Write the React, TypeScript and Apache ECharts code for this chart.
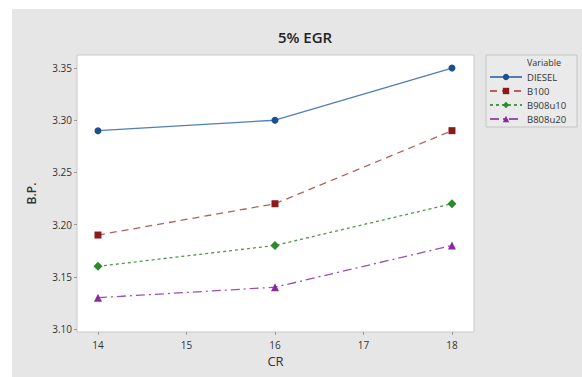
import React, { useEffect, useRef } from "react";
import * as echarts from "echarts";

const crValues = [14, 16, 18];
const xTicks = [14, 15, 16, 17, 18];
const yTicks = [3.1, 3.15, 3.2, 3.25, 3.3, 3.35];
const diesel = [3.29, 3.3, 3.35];
const b100 = [3.19, 3.22, 3.29];
const b90 = [3.16, 3.18, 3.22];
const b80 = [3.13, 3.14, 3.18];
const seriesNames = ["DIESEL", "B100", "B908u10", "B808u20"];

const pairs = (vals: number[]) => crValues.map((x, i) => [x, vals[i]]);

export default function App() {
  const ref = useRef<HTMLDivElement>(null);
  useEffect(() => {
    if (!ref.current) return;
    const chart = echarts.init(ref.current, null, { renderer: "svg" });
    const font = "'Open Sans', 'Noto Sans', sans-serif";
    const mk = (
      name: string,
      vals: number[],
      color: string,
      lineColor: string,
      symbol: string,
      size: number,
      type: any
    ) => ({
      name,
      type: "line",
      data: pairs(vals),
      symbol,
      symbolSize: size,
      itemStyle: { color },
      lineStyle: { color: lineColor, width: 1.3, type },
      emphasis: { disabled: true },
    });
    chart.setOption({
      animation: false,
      backgroundColor: "#ffffff",
      textStyle: { fontFamily: font },
      title: {
        text: "5% EGR",
        left: 300,
        top: 24,
        textAlign: "center",
        textStyle: { fontSize: 15, fontWeight: 600, color: "#222", fontFamily: font },
      },
      graphic: [
        {
          type: "rect",
          z: -10,
          silent: true,
          shape: { x: 12, y: 9, width: 570, height: 368 },
          style: { fill: "#e6e6e6" },
        },
        {
          type: "rect",
          z: -5,
          silent: true,
          shape: { x: 486, y: 55, width: 91, height: 72 },
          style: { fill: "#eaeaea", stroke: "#c4c4c4", lineWidth: 1 },
        },
        {
          type: "text",
          left: 527,
          top: 58,
          style: { text: "Variable", fontSize: 9, fill: "#333", fontFamily: font },
        },
      ],
      grid: {
        left: 77,
        top: 55,
        width: 397,
        height: 277,
        show: true,
        backgroundColor: "#ffffff",
        borderColor: "#c8c8c8",
        borderWidth: 1,
      },
      legend: {
        orient: "vertical",
        left: 489,
        top: 72,
        itemWidth: 32,
        itemHeight: 8,
        itemGap: 4,
        padding: 0,
        data: seriesNames,
        textStyle: { fontSize: 9.5, color: "#333", fontFamily: font },
      },
      xAxis: {
        type: "value",
        min: 13.763,
        max: 18.249,
        name: "CR",
        nameLocation: "middle",
        nameGap: 22,
        nameTextStyle: { fontSize: 13, color: "#333", fontFamily: font },
        axisLine: { show: false },
        splitLine: { show: false },
        axisTick: { show: true, customValues: xTicks, length: 3, lineStyle: { color: "#999" } },
        axisLabel: {
          customValues: xTicks,
          fontSize: 10,
          color: "#333",
          margin: 8,
          formatter: (v: number) => String(v),
        },
      },
      yAxis: {
        type: "value",
        min: 3.0971,
        max: 3.3625,
        name: "B.P.",
        nameLocation: "middle",
        nameGap: 40,
        nameTextStyle: { fontSize: 12, fontWeight: 600, color: "#333", fontFamily: font },
        axisLine: { show: false },
        splitLine: { show: false },
        axisTick: { show: true, customValues: yTicks, length: 3, lineStyle: { color: "#999" } },
        axisLabel: {
          customValues: yTicks,
          fontSize: 10,
          color: "#333",
          margin: 5,
          formatter: (v: number) => v.toFixed(2),
        },
      },
      series: [
        mk(seriesNames[0], diesel, "#1d4f8c", "#4f7fb5", "circle", 7, "solid"),
        mk(seriesNames[1], b100, "#8b1a1a", "#b5605e", "rect", 7, [7, 5]),
        mk(seriesNames[2], b90, "#2b8a2b", "#4a9a4a", "diamond", 9, [3, 3]),
        mk(seriesNames[3], b80, "#8a2a9e", "#9b4fb0", "triangle", 8, [9, 4, 2, 4]),
      ],
    });
    return () => chart.dispose();
  }, []);
  return (
    <div
      ref={ref}
      style={{ position: "fixed", left: 0, top: 0, width: 582, height: 377 }}
    />
  );
}
